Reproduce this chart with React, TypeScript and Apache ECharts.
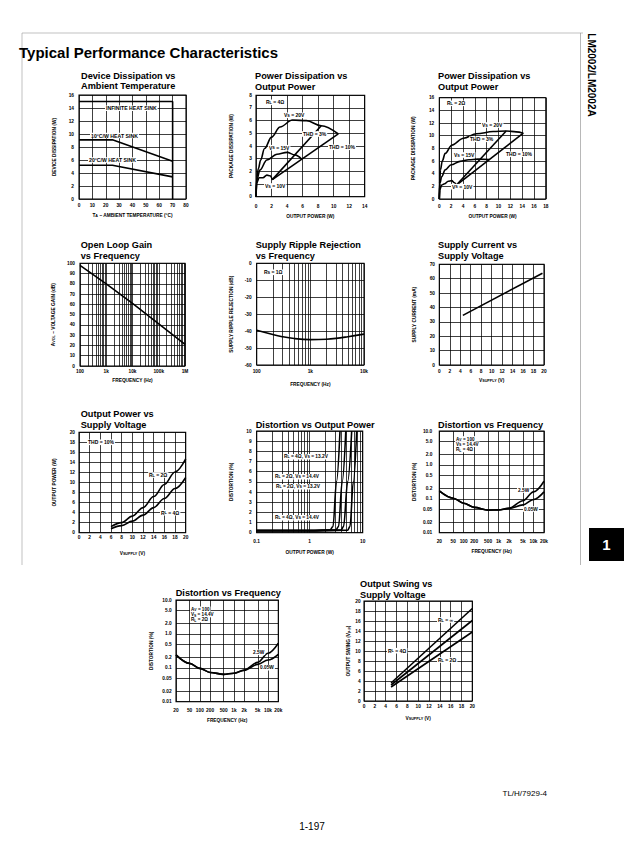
import React, { useEffect, useRef } from "react";
import * as echarts from "echarts";

// ================= DATA =================
// 1 · Device Dissipation vs Ambient Temperature  [T (°C), Pd (W)]
const infiniteHeatSink = [[0, 15], [70, 15], [70, 0]];
const heatSink10CW = [[0, 9.1], [25, 9.1], [70, 5.8]];
const heatSink20CW = [[0, 5.2], [25, 5.2], [70, 3.4]];

// 2 · Power Dissipation vs Output Power, RL = 4Ω  [Pout (W), Pd (W)]
const pd4Vs20 = [[0, 0], [0.1, 1.5], [0.3, 2.2], [0.6, 2.9], [1.1, 3.8], [2, 4.7], [3.1, 5.5], [4.7, 6.05], [6.5, 6.0], [8.4, 5.6], [10.6, 4.95]];
const pd4Vs15 = [[0, 0], [0.1, 1.3], [0.5, 2.1], [1.4, 2.9], [2.7, 3.35], [4.0, 3.5], [5.0, 3.3], [5.9, 2.95]];
const pd4Vs10 = [[0, 0], [0.1, 1.1], [0.4, 1.5], [0.9, 1.5], [1.4, 1.7], [1.8, 1.65], [2.1, 1.35]];
const pd4Thd3 = [[2.1, 1.35], [8.4, 5.6]];
const pd4Thd10 = [[2.1, 1.35], [10.6, 4.95]];

// 3 · Power Dissipation vs Output Power, RL = 2Ω
const pd2Vs20 = [[0, 0], [0.05, 2.5], [0.2, 4.6], [0.5, 6.0], [1, 7.2], [2.1, 8.5], [4.1, 9.6], [6.3, 10.3], [9.1, 10.65], [11.3, 10.75], [13, 10.6], [14.2, 10.4]];
const pd2Vs15 = [[0, 0], [0.1, 2.5], [0.4, 3.5], [1, 4.6], [2, 5.4], [3.5, 5.95], [5, 6.2], [6.5, 6.3], [8.5, 6.25]];
const pd2Vs10 = [[0, 0], [0.1, 1.5], [0.4, 2.2], [0.9, 2.4], [1.5, 2.8], [2.1, 2.9], [2.5, 2.6], [2.9, 2.2]];
const pd2Thd3 = [[2.9, 2.2], [11.3, 10.75]];
const pd2Thd10 = [[2.9, 2.2], [14.2, 10.4]];

// 4 · Open Loop Gain vs Frequency
const gainFreq = [100, 1000, 10000, 100000, 1000000];
const gainDb = [98, 80, 61, 41, 21];
const gainFreqTicks = [100, 1000, 10000, 100000, 1000000];
const gainFreqLabels = ["100", "1k", "10k", "100k", "1M"];

// 5 · Supply Ripple Rejection vs Frequency
const rippleFreq = [100, 200, 300, 500, 1000, 2000, 3000, 5000, 10000];
const rippleDb = [-39.5, -42, -43.3, -44.4, -45, -44.8, -44.3, -43.3, -41.8];
const rippleFreqTicks = [100, 1000, 10000];
const rippleFreqLabels = ["100", "1k", "10k"];

// 6 · Supply Current vs Supply Voltage
const currentVolts = [4.5, 19.7];
const currentMa = [34.5, 63.8];

// 7 · Output Power vs Supply Voltage (THD = 10%)
const outVolts = [6, 8, 10, 12, 14, 16, 18, 20];
const outPowerRL2 = [1.2, 2.0, 3.3, 5.0, 7.2, 9.6, 12.1, 14.7];
const outPowerRL4 = [0.8, 1.4, 2.3, 3.5, 5.0, 6.8, 8.8, 11.0];

// 8 · Distortion vs Output Power  [Pout (W), THD (%)]
const distRL4Vs132 = [[0.1, 0.2], [1, 0.2], [2.4, 0.25], [2.75, 0.6], [3.2, 5], [3.73, 10]];
const distRL4Vs144 = [[0.1, 0.2], [1, 0.2], [3.1, 0.25], [3.5, 0.6], [4.1, 5], [4.8, 10]];
const distRL2Vs132 = [[0.1, 0.2], [1, 0.2], [3.9, 0.25], [4.35, 0.6], [5.2, 5], [6.2, 10]];
const distRL2Vs144 = [[0.1, 0.2], [1, 0.2], [5.2, 0.25], [5.75, 0.6], [6.65, 5], [7.7, 10]];
const distPowerTicks = [0.1, 1, 10];
const distPowerLabels = ["0.1", "1", "10"];

// 9 / 10 · Distortion vs Frequency
const thdFreq = [20, 50, 100, 200, 500, 1000, 2000, 5000, 10000, 20000];
const thdRL4P25 = [0.17, 0.104, 0.074, 0.056, 0.046, 0.047, 0.053, 0.088, 0.16, 0.33];
const thdRL4P005 = [0.17, 0.104, 0.074, 0.056, 0.046, 0.047, 0.052, 0.066, 0.095, 0.16];
const thdRL2P25 = [0.24, 0.135, 0.096, 0.073, 0.064, 0.069, 0.086, 0.145, 0.27, 0.53];
const thdRL2P005 = [0.24, 0.135, 0.096, 0.073, 0.064, 0.069, 0.084, 0.126, 0.17, 0.25];
const thdFreqTicks = [20, 50, 100, 200, 500, 1000, 2000, 5000, 10000, 20000];
const thdFreqLabels = ["20", "50", "100", "200", "500", "1k", "2k", "5k", "10k", "20k"];
const thdPctTicks = [0.01, 0.02, 0.05, 0.1, 0.2, 0.5, 1, 2, 5, 10];
const thdPctLabels = ["0.01", "0.02", "0.05", "0.1", "0.2", "0.5", "1.0", "2.0", "5.0", "10.0"];

// 11 · Output Swing vs Supply Voltage
const swingVolts = [5, 20];
const swingRLInf = [3.6, 18.5];
const swingRL4 = [3.2, 16.1];
const swingRL2 = [2.8, 13.8];

// ================= STYLE / LAYOUT =================
const FONT = '"Liberation Sans", Arial, Helvetica, sans-serif';
const SUB = { fontFamily: FONT, fontSize: 3.7, fontWeight: "bold", color: "#000", verticalAlign: "bottom" };
const TICK = { fontFamily: FONT, fontSize: 4.8, fontWeight: "bold", color: "#000" };
const NAME = { fontFamily: FONT, fontSize: 4.8, fontWeight: "bold", color: "#000", rich: { s: SUB } };
const GRIDLINE = { show: true, lineStyle: { color: "#000", width: 0.75 } };

const zip = (xs: number[], ys: number[]) => xs.map((x, i) => [x, ys[i]]);
const decades = (min: number, max: number) => {
  const out: number[] = [];
  for (let e = Math.round(Math.log10(min)); e < Math.round(Math.log10(max)); e++) {
    for (let n = 1; n <= 9; n++) out.push(n * Math.pow(10, e));
  }
  out.push(max);
  return out.filter((v) => v >= min - 1e-12 && v <= max + 1e-12);
};

function buildOption() {
  const grid: any[] = [];
  const xAxis: any[] = [];
  const yAxis: any[] = [];
  const series: any[] = [];

  const mkAxis = (dim: "x" | "y", gi: number, a: any, list: any[]) => {
    const position = dim === "x" ? "bottom" : "left";
    const common = {
      gridIndex: gi,
      position,
      axisLine: { show: false },
      splitLine: GRIDLINE,
      name: a.name,
      nameLocation: "middle",
      nameGap: a.nameGap,
      nameTextStyle: NAME,
    };
    if (a.log) {
      list.push({ type: "log", logBase: 10, gridIndex: gi, position, min: a.min, max: a.max, show: false });
      const idx = list.length - 1;
      const lv = a.ticks.map((t: number) => Math.log10(t));
      list.push({
        ...common,
        type: "value",
        min: Math.log10(a.min),
        max: Math.log10(a.max),
        axisTick: { show: false, customValues: a.lines.map((t: number) => Math.log10(t)) },
        axisLabel: {
          ...TICK,
          margin: a.margin,
          customValues: lv,
          formatter: (v: number) => {
            const i = lv.findIndex((t: number) => Math.abs(t - v) < 1e-6);
            return i >= 0 ? a.labels[i] : "";
          },
        },
      });
      return idx;
    }
    list.push({
      ...common,
      type: "value",
      min: a.min,
      max: a.max,
      interval: a.interval,
      axisTick: { show: false },
      axisLabel: { ...TICK, margin: a.margin, showMinLabel: true, showMaxLabel: true },
    });
    return list.length - 1;
  };

  const panel = (box: any, xa: any, ya: any) => {
    const gi = grid.length;
    grid.push({
      ...box,
      show: true,
      borderColor: "#000",
      borderWidth: 1.1,
      backgroundColor: "transparent",
      containLabel: false,
      outerBoundsMode: "none",
    });
    const xi = mkAxis("x", gi, xa, xAxis);
    const yi = mkAxis("y", gi, ya, yAxis);
    return (data: any[], opt: any = {}) =>
      series.push({
        type: "line",
        xAxisIndex: xi,
        yAxisIndex: yi,
        data,
        symbol: "none",
        silent: true,
        lineStyle: { color: "#000", width: 1.6 },
        itemStyle: { color: "#000" },
        ...opt,
      });
  };
  const sm = { smooth: 0.35, smoothMonotone: "x" };

  // 1
  let add = panel(
    { left: 79, top: 95, width: 107, height: 104 },
    { min: 0, max: 80, interval: 10, name: "T{s|A} – AMBIENT TEMPERATURE (°C)", nameGap: 13.6, margin: 4.3 },
    { min: 0, max: 16, interval: 2, name: "DEVICE DISSIPATION (W)", nameGap: 21.6, margin: 5 }
  );
  add(infiniteHeatSink);
  add(heatSink10CW);
  add(heatSink20CW);

  // 2
  add = panel(
    { left: 256, top: 95.3, width: 108.7, height: 101.4 },
    { min: 0, max: 14, interval: 2, name: "OUTPUT POWER (W)", nameGap: 16.9, margin: 6.9 },
    { min: 0, max: 8, interval: 1, name: "PACKAGE DISSIPATION (W)", nameGap: 22, margin: 4 }
  );
  add(pd4Vs20, sm);
  add(pd4Vs15, sm);
  add(pd4Vs10, sm);
  add(pd4Thd3);
  add(pd4Thd10);

  // 3
  add = panel(
    { left: 439.3, top: 97.7, width: 106.5, height: 101.3 },
    { min: 0, max: 18, interval: 2, name: "OUTPUT POWER (W)", nameGap: 15.3, margin: 4.6 },
    { min: 0, max: 16, interval: 2, name: "PACKAGE DISSIPATION (W)", nameGap: 23, margin: 5 }
  );
  add(pd2Vs20, sm);
  add(pd2Vs15, sm);
  add(pd2Vs10, sm);
  add(pd2Thd3);
  add(pd2Thd10);

  // 4
  add = panel(
    { left: 80, top: 263.3, width: 105, height: 102.7 },
    { log: true, min: 100, max: 1000000, lines: decades(100, 1000000), ticks: gainFreqTicks, labels: gainFreqLabels, name: "FREQUENCY (Hz)", nameGap: 11.6, margin: 2.6 },
    { min: 0, max: 100, interval: 10, name: "A{s|VOL} – VOLTAGE GAIN (dB)", nameGap: 23.6, margin: 5 }
  );
  add(zip(gainFreq, gainDb));

  // 5
  add = panel(
    { left: 256.7, top: 263.3, width: 107.3, height: 101.7 },
    { log: true, min: 100, max: 10000, lines: decades(100, 10000), ticks: rippleFreqTicks, labels: rippleFreqLabels, name: "FREQUENCY (Hz)", nameGap: 16.6, margin: 4.3 },
    { min: -60, max: 0, interval: 10, name: "SUPPLY RIPPLE REJECTION (dB)", nameGap: 22.6, margin: 5 }
  );
  add(zip(rippleFreq, rippleDb), { smooth: 0.4 });

  // 6
  add = panel(
    { left: 439.3, top: 264.3, width: 104.7, height: 100.7 },
    { min: 0, max: 20, interval: 2, name: "V{s|SUPPLY} (V)", nameGap: 12.6, margin: 4.3 },
    { min: 0, max: 70, interval: 10, name: "SUPPLY CURRENT (mA)", nameGap: 22, margin: 4.3 }
  );
  add(zip(currentVolts, currentMa));

  // 7
  add = panel(
    { left: 79, top: 432.3, width: 106.7, height: 100.4 },
    { min: 0, max: 20, interval: 2, name: "V{s|SUPPLY} (V)", nameGap: 18, margin: 1.8 },
    { min: 0, max: 20, interval: 2, name: "OUTPUT POWER (W)", nameGap: 21.6, margin: 4 }
  );
  add(zip(outVolts, outPowerRL2), sm);
  add(zip(outVolts, outPowerRL4), sm);

  // 8
  add = panel(
    { left: 256.7, top: 431, width: 106, height: 101.7 },
    { log: true, min: 0.1, max: 10, lines: decades(0.1, 10), ticks: distPowerTicks, labels: distPowerLabels, name: "OUTPUT POWER (W)", nameGap: 17.6, margin: 5.9 },
    { min: 0, max: 10, interval: 1, name: "DISTORTION (%)", nameGap: 22.6, margin: 5 }
  );
  add(distRL4Vs132, sm);
  add(distRL4Vs144, sm);
  add(distRL2Vs132, sm);
  add(distRL2Vs144, sm);

  // 9
  add = panel(
    { left: 439.3, top: 431, width: 104.7, height: 101.7 },
    { log: true, min: 20, max: 20000, lines: thdFreqTicks, ticks: thdFreqTicks, labels: thdFreqLabels, name: "FREQUENCY (Hz)", nameGap: 15.9, margin: 5.9 },
    { log: true, min: 0.01, max: 10, lines: thdPctTicks, ticks: thdPctTicks, labels: thdPctLabels, name: "DISTORTION (%)", nameGap: 22, margin: 7 }
  );
  add(zip(thdFreq, thdRL4P25), sm);
  add(zip(thdFreq, thdRL4P005), sm);

  // 10
  add = panel(
    { left: 176, top: 600, width: 102.3, height: 101.7 },
    { log: true, min: 20, max: 20000, lines: thdFreqTicks, ticks: thdFreqTicks, labels: thdFreqLabels, name: "FREQUENCY (Hz)", nameGap: 16.6, margin: 5.9 },
    { log: true, min: 0.01, max: 10, lines: thdPctTicks, ticks: thdPctTicks, labels: thdPctLabels, name: "DISTORTION (%)", nameGap: 21.9, margin: 4.3 }
  );
  add(zip(thdFreq, thdRL2P25), sm);
  add(zip(thdFreq, thdRL2P005), sm);

  // 11
  add = panel(
    { left: 364, top: 601, width: 108.3, height: 100 },
    { min: 0, max: 20, interval: 2, name: "V{s|SUPPLY} (V)", nameGap: 15.3, margin: 3.3 },
    { min: 0, max: 20, interval: 2, name: "OUTPUT SWING (V{s|p-p})", nameGap: 12.3, margin: 3.3 }
  );
  add(zip(swingVolts, swingRLInf));
  add(zip(swingVolts, swingRL4));
  add(zip(swingVolts, swingRL2));

  // ----- texts -----
  const text = (x: number, y: number, t: string, size: number, extra: any = {}) => ({
    type: "text",
    x,
    y,
    z: 100,
    zlevel: 0,
    silent: true,
    style: {
      text: t,
      fontFamily: FONT,
      fontSize: size,
      fontWeight: "bold",
      fill: "#000",
      align: "left",
      verticalAlign: "middle",
      rich: { s: { ...SUB, fill: "#000", fontSize: size * 0.75 } },
      ...extra,
    },
  });
  const TITLES: [number, number, string][] = [
    [81, 75.7, "Device Dissipation vs"], [81, 86.4, "Ambient Temperature"],
    [255, 75.7, "Power Dissipation vs"], [255, 86.7, "Output Power"],
    [438, 75.7, "Power Dissipation vs"], [438, 86.7, "Output Power"],
    [80.7, 245, "Open Loop Gain"], [80.7, 255.5, "vs Frequency"],
    [255.7, 245, "Supply Ripple Rejection"], [255.7, 256, "vs Frequency"],
    [438, 245, "Supply Current vs"], [438, 256, "Supply Voltage"],
    [80.7, 414.3, "Output Power vs"], [80.7, 424.6, "Supply Voltage"],
    [255.7, 425, "Distortion vs Output Power"],
    [438, 425, "Distortion vs Frequency"],
    [175.7, 593.3, "Distortion vs Frequency"],
    [360, 584.3, "Output Swing vs"], [360, 594.6, "Supply Voltage"],
  ];
  const NOTES: [number, number, string, number][] = [
    [105, 108.3, "INFINITE HEAT SINK", 5.2],
    [90, 135.5, "10°C/W HEAT SINK", 5.2],
    [88, 160, "20°C/W HEAT SINK", 5.2],
    [265, 102.3, "R{s|L} = 4Ω", 5],
    [283, 115.3, "V{s|S} = 20V", 5],
    [302, 134, "THD = 3%", 5],
    [268, 147.7, "V{s|S} = 15V", 5],
    [328, 147.3, "THD = 10%", 5],
    [264, 186, "V{s|S} = 10V", 5],
    [446, 103.3, "R{s|L} = 2Ω", 5],
    [481, 125, "V{s|S} = 20V", 5],
    [469, 139.3, "THD = 3%", 5],
    [453, 155, "V{s|S} = 15V", 5],
    [505, 154.3, "THD = 10%", 5],
    [451, 186.7, "V{s|S} = 10V", 5],
    [263, 272.3, "R{s|S} = 1Ω", 5],
    [87, 442.3, "THD = 10%", 5],
    [148, 475, "R{s|L} = 2Ω", 5],
    [160, 512.7, "R{s|L} = 4Ω", 5],
    [283, 456.7, "R{s|L} = 4Ω, V{s|S} = 13.2V", 4.8],
    [274, 476.7, "R{s|L} = 2Ω, V{s|S} = 14.4V", 4.8],
    [275, 486.7, "R{s|L} = 2Ω, V{s|S} = 13.2V", 4.8],
    [274, 517.7, "R{s|L} = 4Ω, V{s|S} = 14.4V", 4.8],
    [455, 439, "A{s|V} = 100", 4.6],
    [455, 444.3, "V{s|S} = 14.4V", 4.6],
    [455, 449.5, "R{s|L} = 4Ω", 4.6],
    [517, 490, "2.5W", 4.8],
    [523, 509, "0.05W", 4.8],
    [190, 609.3, "A{s|V} = 100", 4.6],
    [190, 614.5, "V{s|S} = 14.4V", 4.6],
    [190, 619.7, "R{s|L} = 2Ω", 4.6],
    [252, 652.3, "2.5W", 4.8],
    [259, 667.7, "0.05W", 4.8],
    [437, 620, "R{s|L} = ∞", 5],
    [387, 650.7, "R{s|L} = 4Ω", 5],
    [437, 660, "R{s|L} = 2Ω", 5],
  ];
  const graphic: any[] = [
    { type: "line", silent: true, shape: { x1: 22, y1: 33, x2: 583, y2: 33 }, style: { stroke: "#999", lineWidth: 0.6 } },
    { type: "line", silent: true, shape: { x1: 22, y1: 33, x2: 22, y2: 565 }, style: { stroke: "#999", lineWidth: 0.6 } },
    { type: "line", silent: true, shape: { x1: 580.5, y1: 33, x2: 580.5, y2: 565 }, style: { stroke: "#888", lineWidth: 0.6 } },
    text(19, 52, "Typical Performance Characteristics", 15),
    {
      type: "text", x: 591.5, y: 75, rotation: -Math.PI / 2, silent: true, z: 100,
      style: { text: "LM2002/LM2002A", fontFamily: FONT, fontSize: 10, fontWeight: "bold", fill: "#000", align: "center", verticalAlign: "middle" },
    },
    { type: "rect", silent: true, z: 100, shape: { x: 589, y: 528, width: 35, height: 33 }, style: { fill: "#000" } },
    {
      type: "text", x: 606.5, y: 544.5, silent: true, z: 101,
      style: { text: "1", fontFamily: FONT, fontSize: 15, fontWeight: "bold", fill: "#fff", align: "center", verticalAlign: "middle" },
    },
    {
      type: "text", x: 547, y: 793, silent: true, z: 100,
      style: { text: "TL/H/7929-4", fontFamily: FONT, fontSize: 8, fill: "#000", align: "right", verticalAlign: "middle" },
    },
    {
      type: "text", x: 312, y: 826, silent: true, z: 100,
      style: { text: "1-197", fontFamily: FONT, fontSize: 10, fill: "#000", align: "center", verticalAlign: "middle" },
    },
    ...TITLES.map(([x, y, t]) => text(x, y, t, 9.2)),
    ...NOTES.map(([x, y, t, s]) => text(x, y, t, s, { backgroundColor: "#fff", padding: [0.3, 1] })),
  ];

  return {
    animation: false,
    backgroundColor: "#fff",
    grid,
    xAxis,
    yAxis,
    series,
    graphic: { elements: graphic },
  };
}

export default function App() {
  const ref = useRef<HTMLDivElement>(null);
  useEffect(() => {
    if (!ref.current) return;
    const chart = echarts.init(ref.current, null, { renderer: "svg" });
    chart.setOption(buildOption() as any);
    return () => chart.dispose();
  }, []);
  return (
    <div
      ref={ref}
      style={{ position: "fixed", left: 0, top: 0, width: 624, height: 855, background: "#fff" }}
    />
  );
}
